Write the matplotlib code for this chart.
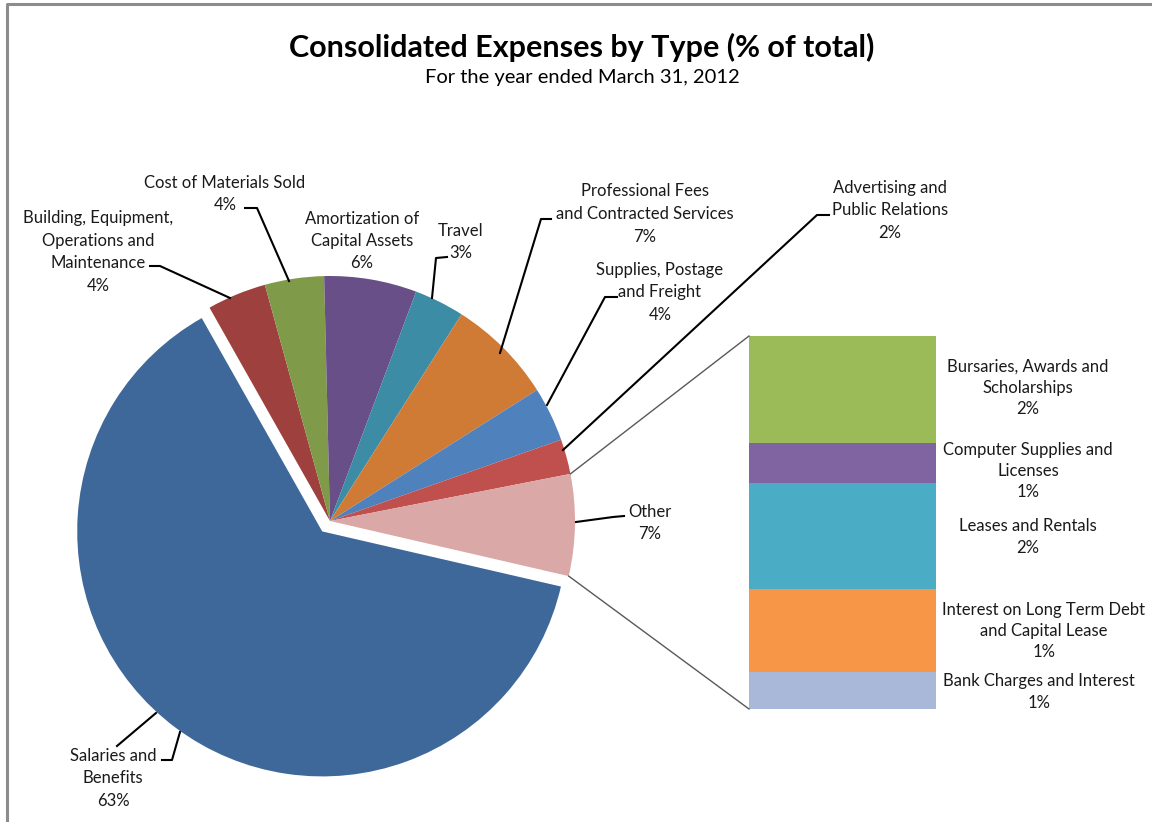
import matplotlib
matplotlib.use('Agg')
import matplotlib.pyplot as plt
import numpy as np

# --- data (percent of total) ---
pie_labels = ["Salaries and\nBenefits", "Building, Equipment,\nOperations and\nMaintenance",
              "Cost of Materials Sold", "Amortization of\nCapital Assets", "Travel",
              "Professional Fees\nand Contracted Services", "Supplies, Postage\nand Freight",
              "Advertising and\nPublic Relations", "Other"]
other_labels = ["Bursaries, Awards and\nScholarships", "Computer Supplies and\nLicenses",
                "Leases and Rentals", "Interest on Long Term Debt\nand Capital Lease",
                "Bank Charges and Interest"]
other_vals = [1.92, 0.72, 1.90, 1.48, 0.67]
pie_vals = [63.2, 3.9, 3.9, 6.1, 3.3, 7.0, 3.6, 2.3, sum(other_vals)]

pie_colors = ["#3F689A", "#9E413E", "#7F9A48", "#684F87", "#3B8CA4",
              "#CF7B36", "#4F81BD", "#C0504D", "#D9A8A7"]
other_colors = ["#9BBB59", "#8064A2", "#4BACC6", "#F79646", "#A9B8D8"]

W, H = 1152, 822
plt.rcParams['font.family'] = ['Lato', 'DejaVu Sans']
txt = '#1a1a1a'

def up(y):
    # image row -> axis y
    return H - y

fig = plt.figure(figsize=(W / 100, H / 100), dpi=100)
ax = fig.add_axes([0, 0, 1, 1])

# --- pie ---
cx, cy, r = 330, up(521), 245
explode = [13] + [0] * (len(pie_vals) - 1)   # pie explode is in data units
wedges, _ = ax.pie(pie_vals, colors=pie_colors, startangle=-13, counterclock=False,
                   center=(cx, cy), radius=r, explode=explode, frame=True,
                   wedgeprops=dict(linewidth=0))
ax.set_xlim(0, W)
ax.set_ylim(0, H)
ax.axis('off')

# frame of the chart area
ax.plot([7, 7, W], [0, up(4), up(4)], color='#8c8c8c', lw=2.2, solid_capstyle='butt')

ax.text(582, up(47), "Consolidated Expenses by Type (% of total)", ha='center', va='center',
        fontsize=22, fontweight='bold', color='black')
ax.text(582, up(77), "For the year ended March 31, 2012", ha='center', va='center',
        fontsize=14.5, color='black')

# --- bar of "Other" ---
bar_x, bar_w = 842.5, 187
bar_bottom, bar_h = up(709), 373
scale = bar_h / sum(other_vals)
stack_vals = other_vals[::-1]
stack_cols = other_colors[::-1]
bottoms = np.concatenate([[0], np.cumsum(stack_vals)[:-1]])
bars = ax.bar([bar_x] * len(stack_vals), np.array(stack_vals) * scale, width=bar_w,
              bottom=bar_bottom + bottoms * scale, color=stack_cols, linewidth=0)

# connectors from "Other" wedge to the bar
ow = wedges[-1]
for ang, ypt in [(ow.theta2, bar_bottom + bar_h), (ow.theta1, bar_bottom)]:
    px = cx + r * np.cos(np.radians(ang))
    py = cy + r * np.sin(np.radians(ang))
    ax.plot([px, bar_x - bar_w / 2], [py, ypt], color='#595959', lw=1)

# --- labels ---
def pct(v):
    return f"{v / sum(pie_vals) * 100:.0f}%"

lab_fs = 12
pie_text_pos = [(113, 778), (98, 252), (225, 194), (362, 241), (461, 242),
                (645, 214), (660, 292), (890, 210), (650, 523)]
for lab, v, (x, y) in zip(pie_labels, pie_vals, pie_text_pos):
    ax.text(x, up(y), f"{lab}\n{pct(v)}", ha='center', va='center', fontsize=lab_fs,
            color=txt, linespacing=1.5)

leaders = [
    [(162, 760), (172, 760), (180, 732)],
    [(117, 746), (156, 713)],
    [(150, 266), (160, 266), (230, 298)],
    [(245, 208), (257, 208), (289, 281)],
    [(447, 257), (436, 258), (432, 298)],
    [(551, 219), (541, 219), (500, 353)],
    [(617, 297), (605, 297), (547, 405)],
    [(829, 215), (817, 215), (563, 450)],
    [(624, 516), (613, 517), (576, 522)],
]
for pts in leaders:
    xs, ys = zip(*pts)
    ax.plot(xs, [up(y) for y in ys], color='black', lw=1.5)

other_text_pos = [(1028, 388), (1028, 471), (1028, 537), (1044, 631), (1039, 692)]
for lab, v, (x, y) in zip(other_labels, other_vals, other_text_pos):
    ax.text(x, up(y), f"{lab}\n{pct(v)}", ha='center', va='center', fontsize=lab_fs,
            color=txt, linespacing=1.4)

fig.savefig('out.png', dpi=100)
